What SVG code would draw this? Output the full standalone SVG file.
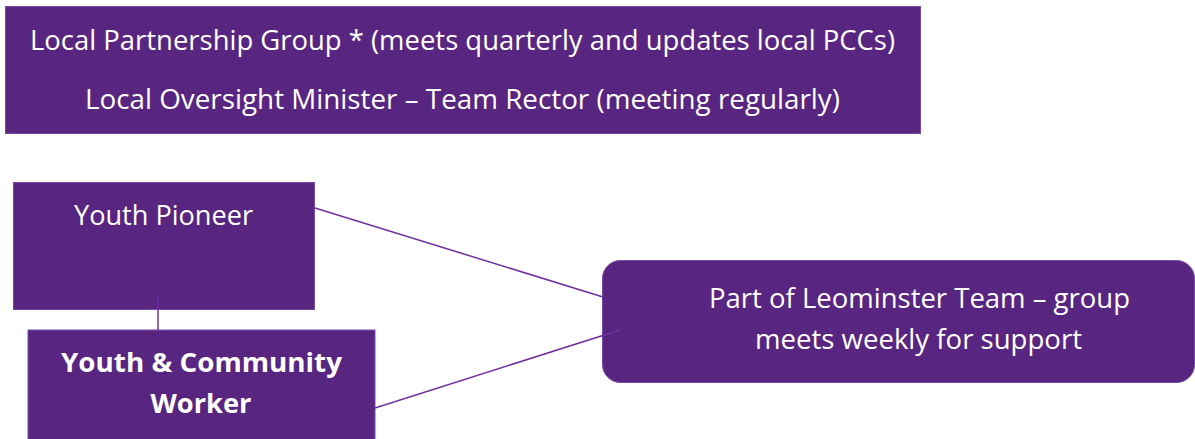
<svg xmlns="http://www.w3.org/2000/svg" width="1195" height="439" viewBox="0 0 1195 439">
<style>
.box{fill:#582680;stroke:#7a4aa8;stroke-width:1}
.t{font-family:"Open Sans","Noto Sans","Liberation Sans",sans-serif;font-size:27.5px;fill:#ffffff;text-anchor:middle}
.b{font-weight:bold}
.conn{stroke:#7030a0;stroke-width:1.5;fill:none}
</style>
<rect width="1195" height="439" fill="#ffffff"/>
<g id="node-top">
<rect class="box" x="5.5" y="6.5" width="915" height="127"/>
<text class="t" x="462.5" y="50" textLength="865" lengthAdjust="spacingAndGlyphs">Local Partnership Group * (meets quarterly and updates local PCCs)</text>
<text class="t" x="462.5" y="109" textLength="755" lengthAdjust="spacingAndGlyphs">Local Oversight Minister – Team Rector (meeting regularly)</text>
</g>
<g id="node-pioneer">
<rect class="box" x="13.5" y="182.5" width="301" height="127"/>
<text class="t" x="163.5" y="225" textLength="179" lengthAdjust="spacingAndGlyphs">Youth Pioneer</text>
</g>
<g id="node-worker">
<rect class="box" x="28" y="330" width="347" height="110"/>
<text class="t b" x="201.5" y="372" textLength="281" lengthAdjust="spacingAndGlyphs">Youth &amp; Community</text>
<text class="t b" x="201" y="413" textLength="101" lengthAdjust="spacingAndGlyphs">Worker</text>
</g>
<g id="node-team">
<rect class="box" x="602.5" y="260.5" width="592" height="122" rx="18" ry="18"/>
<text class="t" x="919.5" y="308" textLength="421" lengthAdjust="spacingAndGlyphs">Part of Leominster Team – group</text>
<text class="t" x="918.5" y="349" textLength="327" lengthAdjust="spacingAndGlyphs">meets weekly for support</text>
</g>
<g id="connectors">
<line class="conn" x1="158" y1="297" x2="158" y2="330"/>
<line class="conn" x1="315" y1="208" x2="603" y2="297"/>
<line class="conn" x1="375" y1="408" x2="620" y2="330"/>
</g>
</svg>
